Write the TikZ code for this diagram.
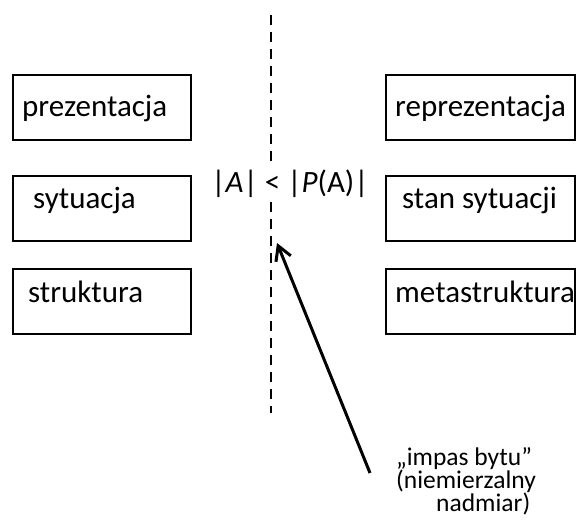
\documentclass[tikz,border=0pt]{standalone}
\usepackage{fontspec}
\setmainfont{Carlito}
\usetikzlibrary{positioning,arrows.meta}
\newcommand{\notefont}{\fontsize{25.5}{23}\selectfont\lineskiplimit=-50pt\relax}

\begin{document}
\begin{tikzpicture}[x=1pt, y=-1pt]
	\tikzset{
		box/.style={draw, line width=2.4pt, minimum width=178pt, minimum height=65pt, inner sep=0pt},
		word/.style={anchor=base west, inner sep=0pt, font=\fontsize{31}{37}\selectfont},
		divide/.style={line width=2.6pt, dash pattern=on 10pt off 7pt},
		pointer/.style={line width=3pt, -{Straight Barb[length=14pt, width=16pt, line width=3pt]}}
	}
	\useasboundingbox (0,0) rectangle (577,529);
	
	% ---- dividing line and relation ----
	\coordinate (top) at (271,15);
	\coordinate (bottom) at (271,413);
	\draw[divide] (top) -- (bottom);
	\node[fill=white, inner sep=3pt, font=\fontsize{31}{37}\selectfont] (rel) at (290,184)
		{|\textit{A}| < |\textit{P}(A)|};
	
	% ---- left column ----
	\node[box] (b1) at (102,107.5) {};
	\node[box] (b2) at (102,208.5) {};
	\node[box] (b3) at (102,301.5) {};
	\node[word] (w1) at (22,117) {prezentacja};
	\node[word] (w2) at (33,208) {sytuacja};
	\node[word] (w3) at (28,302) {struktura};
	
	% ---- right column ----
	\node[box, minimum width=189pt] (c1) at (480.5,107.5) {};
	\node[box, minimum width=189pt] (c2) at (480.5,208.5) {};
	\node[box, minimum width=189pt] (c3) at (480.5,301.5) {};
	\node[word] (v1) at (395,117) {reprezentacja};
	\node[word] (v2) at (402,208) {stan sytuacji};
	\node[word] (v3) at (395,302) {metastruktura};
	
	% ---- annotation ----
	\node[anchor=north west, inner sep=0pt, align=left, font=\notefont] (note) at (396,447)
		{„impas bytu”\\(niemierzalny\\\hspace*{40pt}nadmiar)};
	\coordinate (tail) at (370,473);
	\coordinate (tip) at (277,243);
	\draw[pointer] (tail) -- (tip);
\end{tikzpicture}
\end{document}
